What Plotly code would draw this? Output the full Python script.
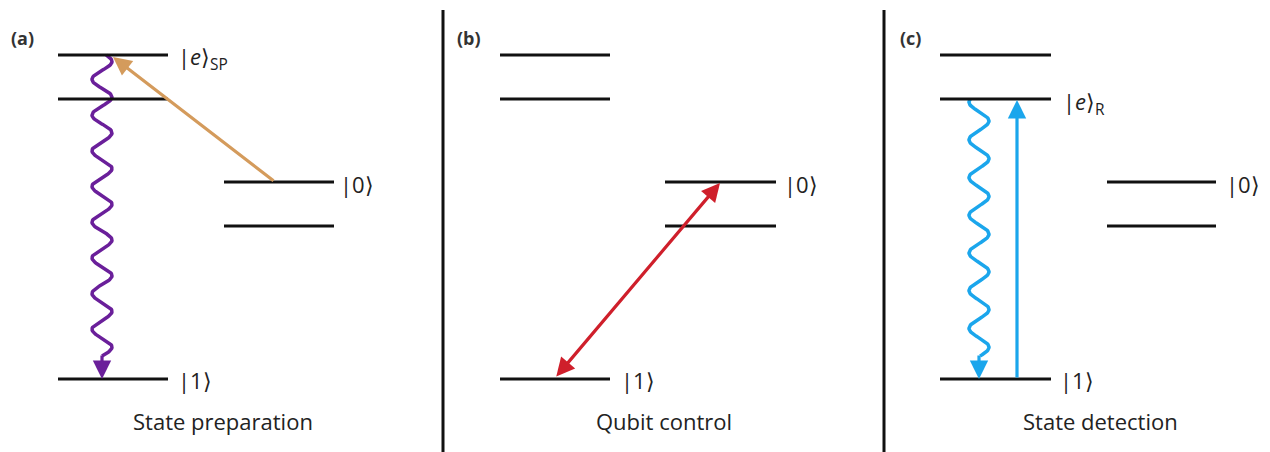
import numpy as np
import plotly.graph_objects as go

# ---- data ----
panel_labels = ["(a)", "(b)", "(c)"]
panel_captions = ["State preparation", "Qubit control", "State detection"]
# energy levels: x-left, x-right, y (pixel-like diagram units)
level_x0 = [58, 58, 224, 224, 58, 500, 500, 665, 665, 500, 940, 940, 1107, 1107, 940]
level_x1 = [168, 168, 334, 334, 168, 610, 610, 776, 776, 610, 1051, 1051, 1216, 1216, 1051]
level_y = [55, 99, 182, 226, 379, 55, 99, 182, 226, 379, 55, 99, 182, 226, 379]

ket_text = ["|<i>e</i>⟩<sub>SP</sub>", "|0⟩", "|1⟩", "|0⟩", "|1⟩", "|<i>e</i>⟩<sub>R</sub>", "|0⟩", "|1⟩"]
ket_x = [176, 338, 176, 782, 619, 1061, 1224, 1058]
ket_y = [58, 184, 380, 184, 380, 103, 184, 380]

divider_x = [443, 884]

PURPLE = "#6a1f9a"
ORANGE = "#d49b5c"
RED = "#cf1f2b"
BLUE = "#1ba6ec"

OFF = 8  # compensates the page's default body margin

fig = go.Figure()

# levels
for x0, x1, y in zip(level_x0, level_x1, level_y):
    fig.add_shape(type="line", x0=x0, x1=x1, y0=y, y1=y,
                  line=dict(color="#111111", width=3))

# dividers
for dx in divider_x:
    fig.add_shape(type="line", x0=dx, x1=dx, y0=10, y1=470,
                  line=dict(color="#111111", width=3))

# wavy photon lines (decay)
def wavy(cx, y_start, y_end, amp, period, phase_y, color):
    ys = np.linspace(y_start, y_end, 400)
    xs = cx + amp * np.cos(2 * np.pi * (ys - phase_y) / period)
    fig.add_trace(go.Scatter(x=xs, y=ys, mode="lines",
                             line=dict(color=color, width=3.5),
                             hoverinfo="skip", showlegend=False))

wavy(102, 55, 356, 10, 35.7, 61.5, PURPLE)
wavy(979, 99, 356, 10, 37.7, 121, BLUE)

def arrow(x_tip, y_tip, x_tail, y_tail, color, double=False, width=3.2):
    kw = dict(x=x_tip, y=y_tip, ax=x_tail, ay=y_tail, xref="x", yref="y",
              axref="x", ayref="y", text="", showarrow=True, arrowhead=2,
              arrowsize=1.15, arrowwidth=width, arrowcolor=color, standoff=0)
    if double:
        kw.update(arrowside="end+start", startarrowhead=2, startarrowsize=1.15, startstandoff=0)
    fig.add_annotation(**kw)

# wavy arrowheads
arrow(102, 379, 102, 354, PURPLE)
arrow(979, 379, 979, 354, BLUE)
# optical pumping
arrow(113, 57, 275, 182, ORANGE)
# qubit control
arrow(720, 183, 555, 378, RED, double=True)
# detection
arrow(1017, 100, 1017, 379, BLUE)

# texts
for t, x, y in zip(ket_text, ket_x, ket_y):
    fig.add_annotation(x=x, y=y, text=t, showarrow=False, xanchor="left", yanchor="middle",
                       font=dict(family="Open Sans", size=22, color="#222222"))

for lbl, x in zip(panel_labels, [9, 455, 898]):
    fig.add_annotation(x=x, y=38, text="<b>" + lbl + "</b>", showarrow=False, xanchor="left",
                       yanchor="middle",
                       font=dict(family="Open Sans", size=18, color="#333333"))

for cap, x in zip(panel_captions, [223, 664, 1100]):
    fig.add_annotation(x=x, y=421, text=cap, showarrow=False, xanchor="center", yanchor="middle",
                       font=dict(family="Open Sans", size=22, color="#222222"))

fig.update_layout(
    width=1270, height=452,
    margin=dict(l=0, r=0, t=0, b=0),
    paper_bgcolor="white", plot_bgcolor="white",
    xaxis=dict(range=[OFF, 1270 + OFF], visible=False, fixedrange=True),
    yaxis=dict(range=[452 + OFF, OFF], visible=False, fixedrange=True),
    showlegend=False,
)

fig.write_html("out.html")
